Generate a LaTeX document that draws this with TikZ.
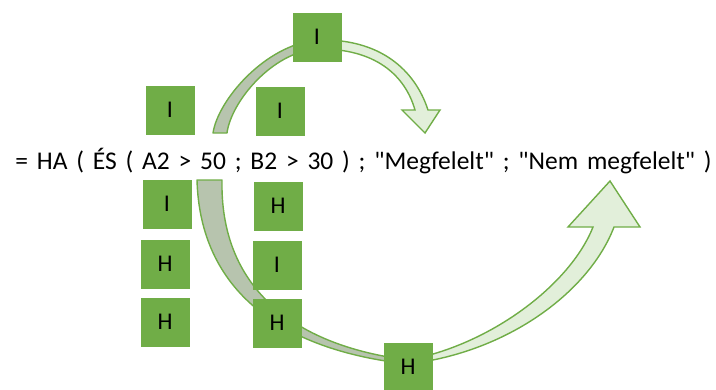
\documentclass[tikz,border=0pt]{standalone}
\usepackage{fontspec}
\setmainfont{Carlito}
\newfontfamily\formulafont{Carlito}[Ligatures=ResetAll]
\definecolor{boxgreen}{RGB}{112,173,71}
\definecolor{linegreen}{RGB}{112,173,71}
\definecolor{lightfill}{RGB}{226,239,218}
\definecolor{backfill}{RGB}{183,196,174}
\tikzset{
  flag/.style={fill=boxgreen, minimum width=49pt, minimum height=49pt,
    inner sep=0pt, font=\fontsize{24}{28}\selectfont, text=black},
  bandback/.style={fill=backfill, draw=linegreen, line width=1.4pt, line join=round},
  bandfront/.style={fill=lightfill, draw=linegreen, line width=1.4pt, line join=miter},
}
\begin{document}
\begin{tikzpicture}[x=1pt, y=-1pt]
\useasboundingbox (0,0) rectangle (716,389);

% upper curved arrow: back side of the ribbon
\path[bandback] (213,133) .. controls (218,100) and (265,45) .. (317,40)
  -- (317,49) .. controls (272,52) and (231,102) .. (227,133) -- cycle;
% upper curved arrow: front side with head
\path[bandfront] (317,40) .. controls (380,38) and (415,70) .. (428,110)
  -- (440,110) -- (425,133) -- (402,110) -- (415,110)
  .. controls (405,75) and (375,48) .. (317,49) -- cycle;

% lower curved arrow: back side of the ribbon
\path[bandback] (197,180) .. controls (200,290) and (280,350) .. (408,364)
  -- (408,360) .. controls (290,345) and (220,285) .. (222,180) -- cycle;
% lower curved arrow: front side with head
\path[bandfront] (408,364) .. controls (510,352) and (590,290) .. (614,227)
  -- (640,227) -- (610,181) -- (568,227) -- (593,227)
  .. controls (570,285) and (490,345) .. (408,360) -- cycle;

% formula, with wide word spacing
\node[anchor=base, inner sep=0pt, font=\formulafont\fontsize{25.5}{30}\selectfont]
  (formula) at (363.5,169)
  {\spaceskip=8.8pt\relax
   = HA ( ÉS ( A2 > 50 ; B2 > 30 ) ; "Megfelelt" ; "Nem megfelelt" )};

% result flags
\node[flag] (top) at (317,37) {I};
\node[flag] (a1) at (170,110) {I};
\node[flag] (b1) at (280,111) {I};
\node[flag] (a2) at (167,204) {I};
\node[flag] (a3) at (165,264) {H};
\node[flag] (a4) at (165,322) {H};
\node[flag] (b2) at (278,206) {H};
\node[flag] (b3) at (277,265) {I};
\node[flag] (b4) at (277,323) {H};
\node[flag] (bottom) at (408,367) {H};
\end{tikzpicture}
\end{document}
